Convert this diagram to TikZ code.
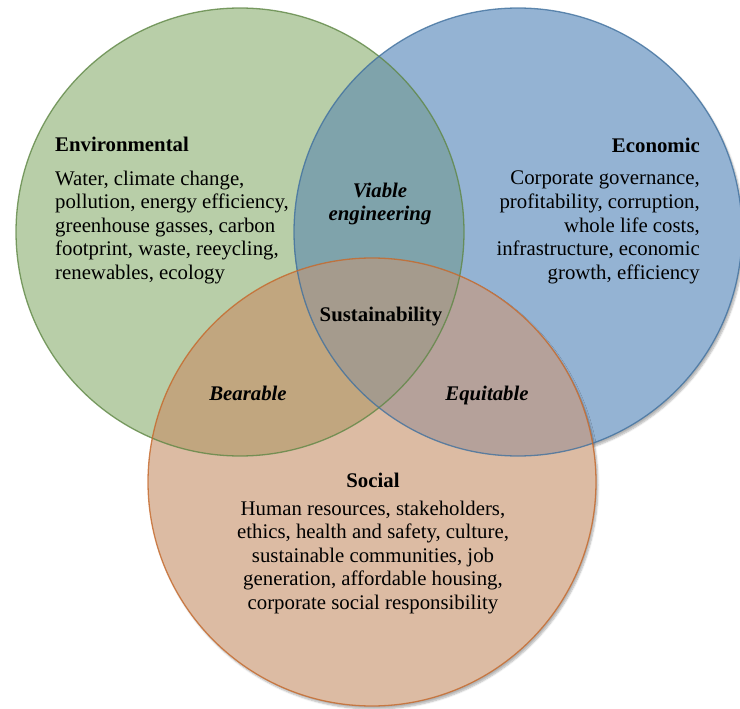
\documentclass[tikz,border=0pt]{standalone}
\usepackage{fontspec}
\setmainfont{Liberation Serif}
\usetikzlibrary{positioning,shadows.blur}

\definecolor{envfill}{HTML}{B8CEA8}
\definecolor{ecofill}{HTML}{94B3D3}
\definecolor{socfill}{HTML}{DCBBA3}
\definecolor{envecofill}{HTML}{7FA3AB}
\definecolor{envsocfill}{HTML}{C1A67F}
\definecolor{ecosocfill}{HTML}{B5A19A}
\definecolor{allfill}{HTML}{A59B8D}
\definecolor{envline}{HTML}{5F8745}
\definecolor{ecoline}{HTML}{41719E}
\definecolor{socline}{HTML}{C5682A}

\begin{document}
\begin{tikzpicture}
[x=1pt, y=-1pt,
% STYLES
% The ring style is used to draw the three circles
ring/.style={circle, inner sep=0pt, minimum size=448pt},
% The shade style gives a soft shadow to the lower right
shade/.style={blur shadow={shadow xshift=2pt, shadow yshift=-3pt, shadow opacity=30, shadow blur steps=6}},
% The rim style is used for the outline of each circle
rim/.style={line width=1.3pt, draw opacity=0.8},
% The head style is used to draw the name of each circle
head/.style={inner sep=0pt, font=\bfseries\fontsize{20.8}{23.6}\selectfont},
% The items style is used to list what each circle holds
items/.style={inner sep=0pt, font=\fontsize{20.8}{23.6}\selectfont},
% The meet style is used for the names of the overlaps
meet/.style={inner sep=0pt, align=center, font=\bfseries\itshape\fontsize{20.8}{23.6}\selectfont}]

\useasboundingbox (0,0) rectangle (740,709);

% Draw circles
\node [ring, fill=envfill] (env) at (240,232) {};
\node [ring, shade, fill=ecofill] (eco) at (518,232) {};
\node [ring, shade, fill=socfill] (soc) at (372,482) {};

% Overlaps
\begin{scope}
  \clip (env.center) circle[radius=224pt];
  \fill [envecofill] (eco.center) circle[radius=224pt];
  \fill [envsocfill] (soc.center) circle[radius=224pt];
\end{scope}
\begin{scope}
  \clip (eco.center) circle[radius=224pt];
  \fill [ecosocfill] (soc.center) circle[radius=224pt];
  \clip (env.center) circle[radius=224pt];
  \fill [allfill] (soc.center) circle[radius=224pt];
\end{scope}

% Outlines
\draw [rim, envline] (env.center) circle[radius=224pt];
\draw [rim, ecoline] (eco.center) circle[radius=224pt];
\draw [rim, socline] (soc.center) circle[radius=224pt];

% ENVIRONMENTAL
\node [head, anchor=base west] (env-head) at (55,152) {Environmental};
\node [items, align=left, below=18.5pt of env-head.base west, anchor=north west] (env-items)
  {Water, climate change,\\pollution, energy efficiency,\\greenhouse gasses, carbon\\footprint, waste, reeycling,\\renewables, ecology};
% ECONOMIC
\node [head, anchor=base east] (eco-head) at (700,153) {Economic};
\node [items, align=right, below=18pt of eco-head.base east, anchor=north east] (eco-items)
  {Corporate governance,\\profitability, corruption,\\whole life costs,\\infrastructure, economic\\growth, efficiency};
% SOCIAL
\node [head, anchor=base] (soc-head) at (373,487) {Social};
\node [items, align=center, below=13.5pt of soc-head.base, anchor=north] (soc-items)
  {Human resources, stakeholders,\\ethics, health and safety, culture,\\sustainable communities, job\\generation, affordable housing,\\corporate social responsibility};

% Overlap names
\node [meet] (viable) at (380,204) {Viable\\engineering};
\node [meet, font=\bfseries\fontsize{20.8}{23.6}\selectfont] (sustain) at (381,317) {Sustainability};
\node [meet] (bearable) at (248,393) {Bearable};
\node [meet] (equitable) at (487,395) {Equitable};

\end{tikzpicture}
\end{document}
